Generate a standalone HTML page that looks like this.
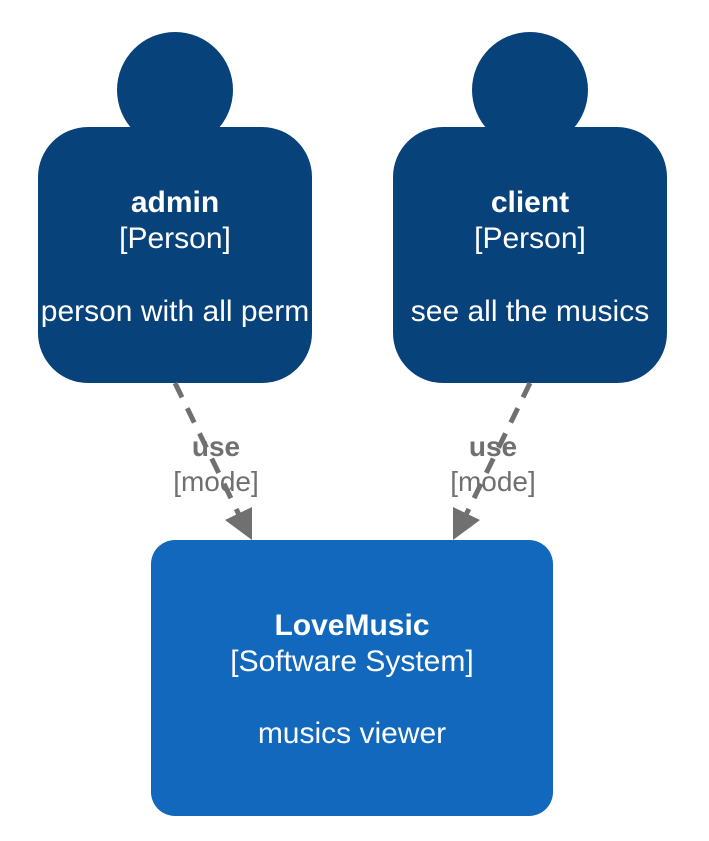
<!DOCTYPE html>
<html><head><meta charset="utf-8"><style>body{margin:0;background:#fff}svg{display:block}</style></head><body>
<svg width="709" height="841" viewBox="0 0 709 841" xmlns="http://www.w3.org/2000/svg" font-family="Liberation Sans, Arial, sans-serif">
<rect width="709" height="841" fill="#fff"/>
<circle cx="175" cy="90" r="58" fill="#08427b"/>
<rect x="38" y="127" width="274" height="256" rx="50" fill="#08427b"/>
<circle cx="530" cy="90" r="58" fill="#08427b"/>
<rect x="393" y="127" width="274" height="256" rx="50" fill="#08427b"/>
<rect x="151" y="540" width="402" height="276" rx="24" fill="#1168bd"/>
<g fill="#fff" text-anchor="middle">
<text x="175" y="212" font-size="30" font-weight="bold">admin</text>
<text x="175" y="248" font-size="30">[Person]</text>
<text x="175" y="321" font-size="30">person with all perm</text>
<text x="530" y="212" font-size="30" font-weight="bold">client</text>
<text x="530" y="248" font-size="30">[Person]</text>
<text x="530" y="321" font-size="30">see all the musics</text>
<text x="352" y="635" font-size="30" font-weight="bold">LoveMusic</text>
<text x="352" y="671" font-size="30">[Software System]</text>
<text x="352" y="743" font-size="30">musics viewer</text>
</g>
<g stroke="#707070" stroke-width="5" stroke-dasharray="16,12" fill="none">
<line x1="175" y1="383" x2="243" y2="523"/>
<line x1="530" y1="383" x2="462" y2="523"/>
</g>
<polygon points="252,540 252,507 225,520" fill="#707070"/>
<polygon points="453,540 453,507 480,520" fill="#707070"/>
<g fill="#707070" text-anchor="middle">
<text x="216" y="456" font-size="28" font-weight="bold">use</text>
<text x="216" y="491" font-size="28">[mode]</text>
<text x="493" y="456" font-size="28" font-weight="bold">use</text>
<text x="493" y="491" font-size="28">[mode]</text>
</g>
</svg>
</body></html>
